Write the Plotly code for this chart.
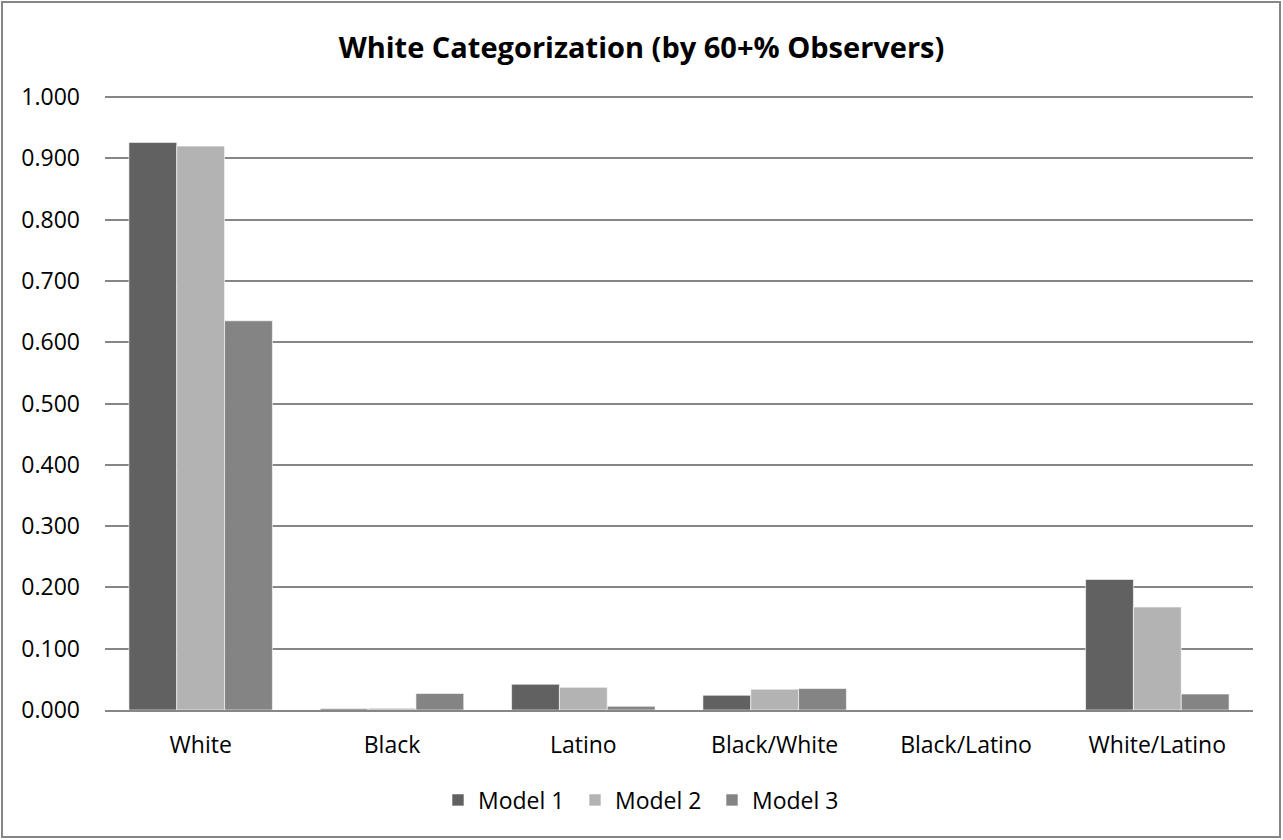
import plotly.graph_objects as go

categories = ["White", "Black", "Latino", "Black/White", "Black/Latino", "White/Latino"]
model_1 = [0.926, 0.002, 0.042, 0.024, 0.0, 0.213]
model_2 = [0.920, 0.003, 0.037, 0.034, 0.0, 0.168]
model_3 = [0.635, 0.027, 0.006, 0.035, 0.0, 0.026]
y_ticks = [0.0, 0.1, 0.2, 0.3, 0.4, 0.5, 0.6, 0.7, 0.8, 0.9, 1.0]

Y_MAX = 1.005
W, H = 1283, 840
L, R, B = 105, 30, 130
unit = 613.0                      # pixels per 1.0 on the value axis
T = int(round(H - B - unit * Y_MAX))
pw, ph = W - L - R, H - T - B

FONT = "Open Sans, Liberation Sans, sans-serif"

fig = go.Figure()
for name, vals, color in [
    ("Model 1", model_1, "#616161"),
    ("Model 2", model_2, "#b3b3b3"),
    ("Model 3", model_3, "#848484"),
]:
    fig.add_trace(go.Bar(
        x=categories, y=vals, name=name,
        marker=dict(color=color, line=dict(color="rgba(255,255,255,0.6)", width=1)),
    ))


def px_x(p):
    return (p - L) / pw


def px_y(p):
    return (H - B - p) / ph


fig.update_layout(
    width=W, height=H,
    margin=dict(l=L, r=R, t=T, b=B),
    paper_bgcolor="white", plot_bgcolor="white",
    barmode="group", bargap=0.25, bargroupgap=0,
    font=dict(family=FONT, size=23, color="#000000"),
    title=dict(
        text="<b>White Categorization (by 60+% Observers)</b>",
        x=0.5, xref="container", xanchor="center",
        y=1 - 48 / H, yanchor="middle",
        font=dict(size=29, family=FONT, color="#000000"),
    ),
    xaxis=dict(
        showgrid=False, showline=True, linecolor="#868686", linewidth=1.5,
        ticks="", tickfont=dict(size=23), ticklabelstandoff=14,
    ),
    yaxis=dict(
        range=[0, Y_MAX], tickvals=y_ticks,
        ticktext=[f"{v:.3f}" for v in y_ticks],
        showgrid=True, gridcolor="#868686", gridwidth=1.5,
        zeroline=False, showline=False, ticks="",
        tickfont=dict(size=23), ticklabelstandoff=24,
    ),
    legend=dict(
        orientation="h", x=px_x(438), xanchor="left",
        y=px_y(800), yanchor="middle",
        font=dict(size=23), itemwidth=30, traceorder="normal",
        entrywidth=92, entrywidthmode="pixels",
    ),
    shapes=[dict(
        type="rect", xref="paper", yref="paper",
        x0=px_x(2), x1=px_x(1280), y0=px_y(837), y1=px_y(2),
        line=dict(color="#868686", width=2), fillcolor="rgba(0,0,0,0)",
        layer="below",
    )],
)

fig.write_html("out.html")
